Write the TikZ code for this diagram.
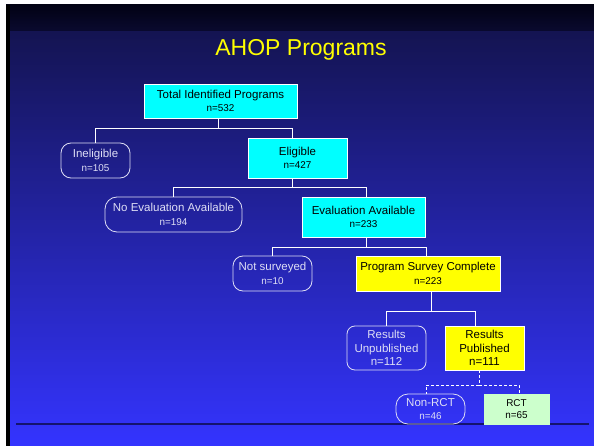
\documentclass[tikz,border=0pt]{standalone}
\usepackage{fontspec}
\setmainfont{Liberation Sans}
\usetikzlibrary{arrows.meta}

\definecolor{bandtop}{RGB}{2,2,20}
\definecolor{bandend}{RGB}{10,10,48}
\definecolor{slidehigh}{RGB}{20,20,82}
\definecolor{slidelow}{RGB}{52,52,255}
\definecolor{boxcyan}{RGB}{0,255,255}
\definecolor{boxyellow}{RGB}{255,255,0}
\definecolor{rctgreen}{RGB}{204,255,204}
\definecolor{paletext}{RGB}{222,222,245}
\definecolor{rulenavy}{RGB}{20,20,110}
\newcommand{\nsize}{\fontsize{9.9}{12}\selectfont}

\begin{document}
\begin{tikzpicture}[
    x=1pt, y=-1pt,
    every node/.style={font=\fontsize{11.5}{13.5}\selectfont},
    cyanbox/.style={
        rectangle,
        draw=white,
        line width=0.8pt,
        fill=boxcyan,
        text=black,
        inner sep=0pt,
        align=center
    },
    yellowbox/.style={cyanbox, fill=boxyellow},
    greenbox/.style={cyanbox, fill=rctgreen, draw=rctgreen},
    roundbox/.style={
        rectangle,
        rounded corners=10pt,
        draw=paletext,
        line width=0.8pt,
        text=paletext,
        inner sep=0pt,
        align=center
    },
    link/.style={draw=white, line width=0.8pt},
    dashlink/.style={link, dash pattern=on 3pt off 2pt}
]

% slide background
\fill[white] (0,0) rectangle (594,446);
\shade[top color=bandtop, bottom color=bandend] (6,5) rectangle (594,32);
\shade[top color=slidehigh, bottom color=slidelow] (6,32) rectangle (594,446);
\fill[black] (6,5) rectangle (10,446);
\coordinate (ruleL) at (16,424);
\coordinate (ruleR) at (589,424);
\draw[rulenavy, line width=1.3pt] (ruleL) -- (ruleR);

\node[text=boxyellow, font=\fontsize{23}{26}\selectfont] (title) at (301,50) {AHOP Programs};

% boxes
\node[cyanbox, minimum width=153pt, minimum height=34pt] (total) at (220.5,101)
    {Total Identified Programs\\{\nsize n=532}};
\node[roundbox, minimum width=69pt, minimum height=35pt] (inelig) at (95.5,160.5)
    {Ineligible\\{\nsize n=105}};
\node[cyanbox, minimum width=99pt, minimum height=40pt] (elig) at (297.5,158)
    {Eligible\\{\nsize n=427}};
\node[roundbox, rounded corners=12pt, minimum width=137pt, minimum height=35pt] (noeval) at (173.5,214.5)
    {No Evaluation Available\\{\nsize n=194}};
\node[cyanbox, minimum width=123pt, minimum height=40pt] (eval) at (363.5,217)
    {Evaluation Available\\{\nsize n=233}};
\node[roundbox, minimum width=79pt, minimum height=35pt] (notsurv) at (272.5,273.5)
    {Not surveyed\\{\nsize n=10}};
\node[yellowbox, minimum width=144pt, minimum height=35pt] (survey) at (428,273.5)
    {Program Survey Complete\\{\nsize n=223}};
\node[roundbox, rounded corners=8pt, minimum width=79pt, minimum height=44pt] (unpub) at (386.5,348)
    {Results\\Unpublished\\n=112};
\node[yellowbox, minimum width=79pt, minimum height=44pt] (pub) at (484.5,348)
    {Results\\Published\\n=111};
\node[roundbox, rounded corners=12pt, minimum width=69pt, minimum height=30pt] (nonrct) at (430.5,409)
    {Non-RCT\\{\nsize n=46}};
\node[greenbox, minimum width=65pt, minimum height=30pt, font=\nsize] (rct) at (516.5,409)
    {RCT\\n=65};

% connectors
\draw[link] ([xshift=-2.5pt]total.south) -- ++(0,10) -| (inelig.north);
\draw[link] ([xshift=-2.5pt]total.south) -- ++(0,10) -| ([xshift=-5.5pt]elig.north);
\draw[link] ([xshift=-5.5pt]elig.south) -- ++(0,9) -| (noeval.north);
\draw[link] ([xshift=-5.5pt]elig.south) -- ++(0,9) -| ([xshift=2.5pt]eval.north);
\draw[link] ([xshift=2.5pt]eval.south) -- ++(0,10) -| (notsurv.north);
\draw[link] ([xshift=2.5pt]eval.south) -- ++(0,10) -| ([xshift=-2pt]survey.north);
\draw[link] ([xshift=3pt]survey.south) -- ++(0,20) -| (unpub.north);
\draw[link] ([xshift=3pt]survey.south) -- ++(0,20) -| ([xshift=-9.5pt]pub.north);
\draw[dashlink] ([xshift=-5.5pt]pub.south) -- ++(0,15) -| ([xshift=-4.5pt]nonrct.north);
\draw[dashlink] ([xshift=-5.5pt]pub.south) -- ++(0,15) -| ([xshift=2.5pt]rct.north);

\end{tikzpicture}
\end{document}
